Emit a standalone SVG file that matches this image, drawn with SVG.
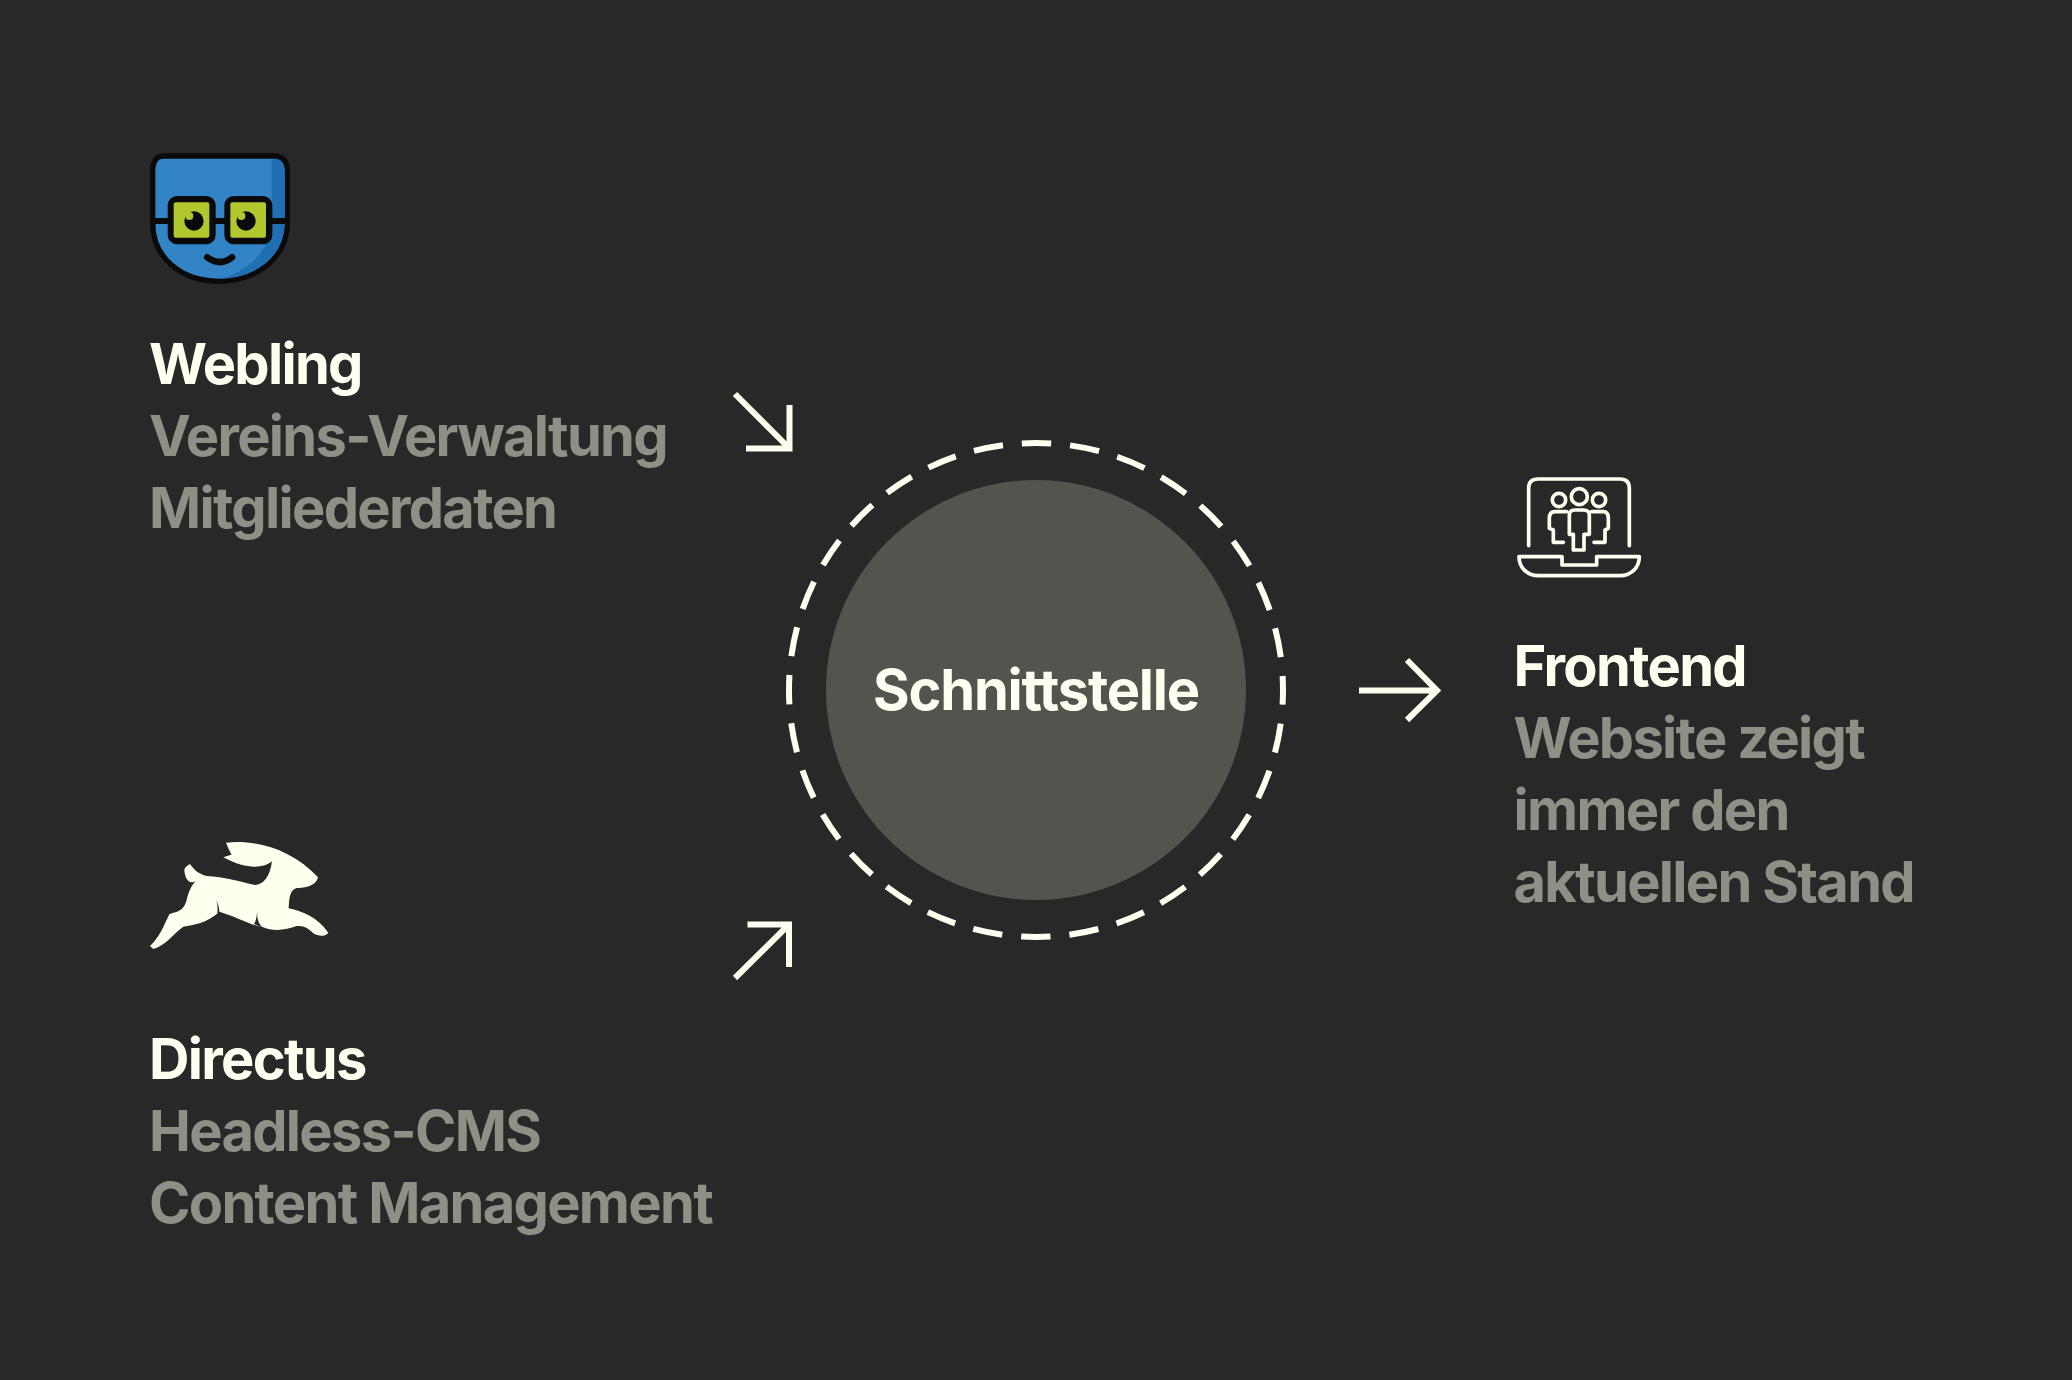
<svg xmlns="http://www.w3.org/2000/svg" width="2072" height="1380" viewBox="0 0 2072 1380">
<style>
text{font-family:"Inter","Liberation Sans",sans-serif;font-size:56px;font-weight:700;letter-spacing:-1.68px}
.t{fill:#fffff0}
.s{fill:#8f8f85}
.a{fill:none;stroke:#fffff0;stroke-width:6}
.i{fill:none;stroke:#fffff0;stroke-width:11;stroke-linejoin:round;stroke-linecap:round}
</style>
<rect width="2072" height="1380" fill="#282828"/>
<g id="webling">
<g transform="translate(130 140) scale(.33333)">
<path d="M100 48H430Q472 48 472 95V250C472 350 380 424 268 424C150 424 68 350 68 250V95Q68 48 100 48Z" fill="#3384c6" stroke="#0a0a0a" stroke-width="16"/>
<path d="M425 56H432Q464 56 464 95V250C464 345 380 416 268 416C350 400 425 330 425 240Z" fill="#1f6fb2"/>
<path d="M68 243H472" stroke="#0a0a0a" stroke-width="18"/>
<rect x="113" y="168" width="144" height="145" rx="28" fill="#0a0a0a"/>
<rect x="283" y="168" width="144" height="145" rx="28" fill="#0a0a0a"/>
<rect x="131" y="187" width="107" height="106" rx="6" fill="#b2c72e"/>
<rect x="301" y="187" width="107" height="106" rx="6" fill="#b2c72e"/>
<circle cx="192" cy="243" r="29" fill="#0a0a0a"/><circle cx="178" cy="228" r="12" fill="#b2c72e"/>
<circle cx="348" cy="243" r="29" fill="#0a0a0a"/><circle cx="334" cy="228" r="12" fill="#b2c72e"/>
<path d="M232 352Q270 380 306 352" fill="none" stroke="#0a0a0a" stroke-width="20" stroke-linecap="round"/>
</g>
<text class="t" x="149" y="384">Webling</text>
<text class="s" x="149" y="456">Vereins-Verwaltung</text>
<text class="s" x="149" y="528">Mitgliederdaten</text>
</g>
<g id="directus">
<g transform="translate(130 820) scale(.33333)">
<path d="M288 68C380 58 485 88 564 172C560 195 530 205 500 204C480 210 478 230 476 265C520 275 560 290 595 338C588 350 565 350 550 340C530 320 520 318 500 318C470 330 430 335 400 322C360 315 320 290 268 275C230 310 190 315 160 320C130 340 110 375 70 387L60 378C90 350 100 320 118 283C130 275 160 280 170 240C175 215 185 195 198 182C180 195 165 180 163 150C165 140 175 135 180 132C190 145 200 160 230 168C280 170 330 185 375 195C400 195 420 170 426 124C400 145 350 150 280 112C290 108 300 105 305 104C300 95 295 85 288 68Z" fill="#fffff0"/>
<path d="M382 272C380 295 385 312 400 324L372 312C380 300 380 285 382 272ZM258 240C266 255 268 265 268 278L262 280C264 265 262 250 258 240Z" fill="#282828"/>
</g>
<text class="t" x="149" y="1079">Directus</text>
<text class="s" x="149" y="1151">Headless-CMS</text>
<text class="s" x="149" y="1223">Content Management</text>
</g>
<g id="schnittstelle">
<circle cx="1036" cy="690" r="210" fill="#53544e"/>
<circle cx="1036" cy="690" r="247" fill="none" stroke="#fffff0" stroke-width="6" stroke-dasharray="29.500 19" stroke-dashoffset="14.750"/>
<text class="t" x="1036" y="710" text-anchor="middle" style="letter-spacing:-1.2px">Schnittstelle</text>
</g>
<g id="frontend">
<g transform="translate(1500 465) scale(.33333)">
<path class="i" d="M86 242V70Q86 42 114 42H360Q388 42 388 70V242"/>
<path class="i" d="M57 275H186V300H290V275H418C418 310 390 332 360 332H115C85 332 57 310 57 275Z"/>
<circle class="i" cx="177" cy="105" r="20"/><circle class="i" cx="238" cy="95" r="24"/><circle class="i" cx="297" cy="105" r="20"/>
<path class="i" d="M220 255V208H208V150Q208 135 225 135H250Q268 135 268 150V208H252V255Z"/>
<path class="i" d="M200 140H165Q148 140 148 160V190L160 195V232H190"/>
<path class="i" d="M275 140H310Q325 140 325 160V190L315 195V232H282"/>
</g>
<text class="t" x="1513.500" y="686">Frontend</text>
<text class="s" x="1513.500" y="758">Website zeigt</text>
<text class="s" x="1513.500" y="830">immer den</text>
<text class="s" x="1513.500" y="902">aktuellen Stand</text>
</g>
<g id="connectors">
<path class="a" d="M735 394L789.500 448.500M746 448.500H789.500V405"/>
<path class="a" d="M735 978L789 924.500M747.500 924.500H789V967"/>
<path class="a" d="M1359 690.500H1436M1407 660L1437 690.500L1407 720"/>
</g>
</svg>
